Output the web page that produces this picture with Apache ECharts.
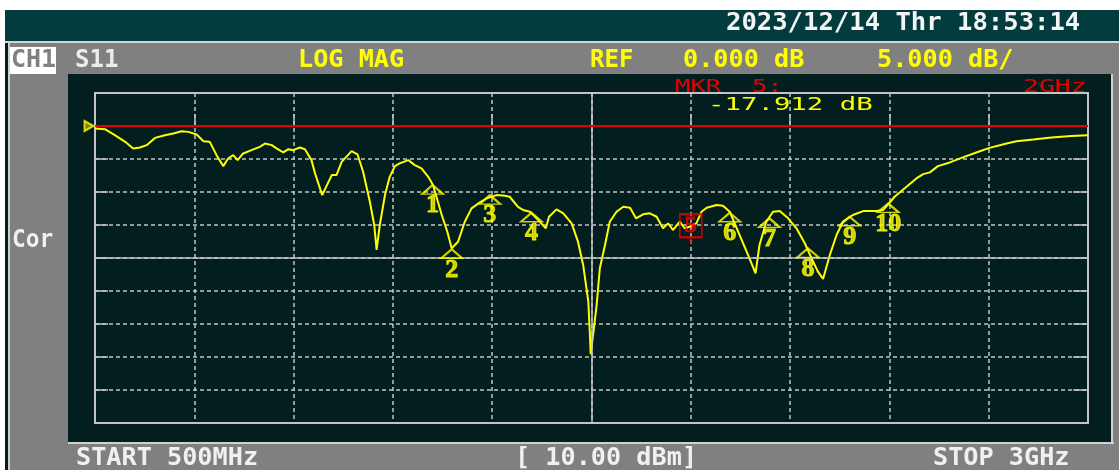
<!DOCTYPE html>
<html>
<head>
<meta charset="utf-8">
<script src="https://cdn.jsdelivr.net/npm/echarts@6/dist/echarts.min.js"></script>
<style>
html, body { margin: 0; padding: 0; background: #fff; }
#chart { width: 1119px; height: 470px; }
</style>
</head>
<body>
<div id="chart"></div>
<script>
// S11 trace, 500 MHz .. 3 GHz
const traceFreq = [500, 525, 550, 576, 596, 613, 630, 651, 676, 697, 718, 735, 756, 773, 789,
  806, 823, 835, 848, 859, 873, 894, 915, 928, 945, 957, 974, 987, 999, 1016, 1029, 1045, 1054,
  1072, 1096, 1108, 1121, 1146, 1161, 1175, 1192, 1203, 1209, 1217, 1230, 1242, 1255, 1267, 1289,
  1305, 1322, 1339, 1351, 1373, 1387, 1398, 1414, 1431, 1448, 1469, 1490, 1511, 1532, 1544, 1565,
  1578, 1595, 1616, 1635, 1643, 1662, 1679, 1700, 1716, 1729, 1742, 1746, 1748, 1754, 1763, 1771,
  1784, 1796, 1813, 1830, 1847, 1862, 1880, 1897, 1914, 1930, 1943, 1955, 1972, 1985, 1997, 2014,
  2027, 2040, 2065, 2081, 2098, 2123, 2144, 2163, 2173, 2190, 2207, 2224, 2245, 2266, 2287, 2304,
  2320, 2333, 2350, 2367, 2383, 2408, 2434, 2467, 2484, 2497, 2513, 2543, 2568, 2585, 2602, 2622,
  2652, 2685, 2719, 2752, 2795, 2820, 2862, 2908, 2958, 3000];
const traceDb = [-0.38, -0.48, -1.39, -2.40, -3.40, -3.25, -2.90, -1.80, -1.39, -1.13, -0.79, -0.89,
  -1.29, -2.30, -2.40, -4.42, -6.08, -4.92, -4.42, -5.17, -4.16, -3.66, -3.16, -2.65, -2.90, -3.40,
  -4.01, -3.51, -3.66, -3.25, -3.55, -5.17, -7.18, -10.47, -7.44, -7.44, -5.43, -3.81, -4.31, -6.94,
  -11.48, -15.00, -18.78, -15.00, -10.47, -7.70, -6.08, -5.67, -5.17, -5.93, -6.43, -7.70, -8.95,
  -13.49, -16.02, -18.53, -17.53, -14.50, -12.48, -11.57, -10.87, -10.47, -10.57, -10.72, -12.24,
  -12.73, -12.99, -14.25, -15.50, -13.75, -12.63, -13.23, -14.75, -17.53, -21.05, -26.60, -31.64,
  -34.56, -31.64, -27.10, -21.55, -18.03, -14.50, -12.99, -12.24, -12.39, -13.99, -13.38, -13.23,
  -13.75, -15.50, -14.75, -15.76, -14.50, -15.50, -15.26, -14.75, -12.99, -12.39, -11.98, -12.08,
  -12.99, -16.52, -19.54, -22.31, -18.03, -14.50, -12.99, -12.89, -13.99, -15.50, -17.77, -20.04,
  -22.07, -23.17, -19.54, -16.52, -14.50, -13.49, -12.89, -12.89, -12.73, -11.87, -10.72, -9.21,
  -7.94, -7.29, -7.03, -6.08, -5.52, -4.76, -4.01, -3.31, -2.65, -2.30, -2.04, -1.74, -1.50, -1.39];

// markers (5 is the active one)
const markerIds = ['1', '2', '3', '4', '6', '7', '8', '9', '10'];
const markerFreq = [1350, 1398, 1494, 1599, 2098, 2198, 2295, 2400, 2497];
const markerDb = [-8.95, -18.68, -10.47, -13.14, -13.14, -13.99, -18.53, -13.75, -11.72];
const activeId = '5';
const activeFreq = 2000;
const activeDb = -17.912;

const refLevel = 0;
const xMin = 500, xMax = 3000, xStep = 250;
const yMin = -45, yMax = 5, yStep = 5;

const YEL = '#ffff00';
const RED = '#e60000';
const GRID = '#c4c4c4';
const BG = '#021e1f';
const FRAME = '#808080';
const MONO = '"DejaVu Sans Mono", monospace';

function txt(str, x, y, color, size, bold, sx) {
  return {
    type: 'text', x: x, y: y, z: 100, scaleX: sx || 1,
    style: {
      text: str, x: 0, y: 0, fill: color,
      font: (bold ? 'bold ' : '') + size + 'px ' + MONO,
      textAlign: 'left', textVerticalAlign: 'middle',
    },
  };
}
function box(x, y, w, h, fill) {
  return { type: 'rect', z: 1, shape: { x: x, y: y, width: w, height: h }, style: { fill: fill } };
}

const chart = echarts.init(document.getElementById('chart'), null, { renderer: 'canvas' });

const axisCommon = {
  type: 'value',
  axisLabel: { show: false },
  axisLine: { show: true, lineStyle: { color: GRID, width: 2 } },
  axisTick: { show: true, inside: true, length: 13, lineStyle: { color: GRID, width: 1.5 } },
};

chart.setOption({
  backgroundColor: BG,
  animation: false,
  grid: {
    left: 95, right: 31, top: 93, height: 330,
    show: true, borderColor: GRID, borderWidth: 2,
  },
  xAxis: [Object.assign({}, axisCommon, {
    min: xMin, max: xMax, interval: xStep, position: 'bottom',
    axisTick: { show: true, inside: true, length: 12, lineStyle: { color: GRID, width: 1.5 } },
    splitLine: { show: true, lineStyle: { color: GRID, width: 1.5, type: [4, 3] } },
  })],
  yAxis: [Object.assign({}, axisCommon, {
    min: yMin, max: yMax, interval: yStep, position: 'left',
    splitLine: { show: true, lineStyle: { color: GRID, width: 1.5, type: [4, 3] } },
  }), Object.assign({}, axisCommon, {
    min: yMin, max: yMax, interval: yStep, position: 'right',
    axisTick: { show: true, inside: true, length: 15, lineStyle: { color: GRID, width: 1.5 } },
    splitLine: { show: false },
  })],
  graphic: [
    // instrument frame, kept outside the plot panel
    box(0, 0, 1119, 10, '#ffffff'),
    box(0, 10, 5, 460, '#ffffff'),
    box(5, 10, 1114, 31, '#033c3f'),
    box(5, 41, 1114, 2, '#d4d4d4'),
    box(8, 43, 1111, 31, FRAME),
    box(8, 74, 60, 396, FRAME),
    box(8, 444, 1111, 26, FRAME),
    box(1113, 74, 6, 370, FRAME),
    box(8, 43, 2, 427, '#d0d0d0'),
    box(68, 442, 1046, 2, '#d0d0d0'),
    box(1111, 74, 2, 370, '#d0d0d0'),
    box(10, 47, 46, 27, '#ffffff'),
    txt('2023/12/14 Thr 18:53:14', 726, 24, '#f4f4f4', 24, true, 1.066),
    txt('CH1', 11, 61, FRAME, 24, true, 1.04),
    txt('S11', 75, 61, '#ececec', 24, true, 1.0),
    txt('LOG MAG', 298, 61, YEL, 24, true, 1.05),
    txt('REF', 590, 61, YEL, 24, true, 1.0),
    txt('0.000 dB', 683, 61, YEL, 24, true, 1.05),
    txt('5.000 dB/', 877, 61, YEL, 24, true, 1.05),
    txt('Cor', 12, 241, '#f0f0f0', 24, true, 0.95),
    txt('START 500MHz', 76, 459, '#f0f0f0', 24, true, 1.05),
    txt('[ 10.00 dBm]', 515, 459, '#f0f0f0', 24, true, 1.05),
    txt('STOP 3GHz', 933, 459, '#f0f0f0', 24, true, 1.05),
    txt('MKR  5:', 675, 87, RED, 18, false, 1.42),
    txt('2GHz', 1023, 87, RED, 18, false, 1.47),
    txt('-17.912 dB', 708, 105, YEL, 18, false, 1.52),
  ],
  series: [
    {
      type: 'line', name: 'grid centre', silent: true, data: [],
      markLine: {
        silent: true, symbol: 'none', label: { show: false },
        data: [
          { xAxis: (xMin + xMax) / 2, lineStyle: { color: GRID, width: 1.5, type: 'solid' } },
          { yAxis: (yMin + yMax) / 2, lineStyle: { color: GRID, width: 1.5, type: 'solid' } },
        ],
      },
      z: 1,
    },
    {
      type: 'line', name: 'S11',
      data: traceFreq.map((f, i) => [f, traceDb[i]]),
      showSymbol: false, symbol: 'none',
      lineStyle: { color: YEL, width: 2 },
      z: 3,
    },
    {
      type: 'line', name: 'ref', silent: true, data: [],
      markLine: {
        silent: true, symbol: 'none', label: { show: false },
        data: [{ yAxis: refLevel, lineStyle: { color: RED, width: 2, type: 'solid' } }],
      },
      z: 2,
    },
    {
      type: 'scatter', name: 'ref pos',
      data: [[xMin, refLevel]],
      symbol: 'path://M0,0 L9,5 L0,10 Z', symbolSize: [9, 10], symbolOffset: [-6, 0],
      itemStyle: { color: '#9a9a00', borderColor: YEL, borderWidth: 2 },
      z: 5,
    },
    {
      type: 'scatter', name: 'markers',
      data: markerFreq.map((f, i) => ({ value: [f, markerDb[i]], name: markerIds[i] })),
      symbol: 'path://M10,0 L20,9 L0,9 Z', symbolSize: [21, 9], symbolOffset: [0, 4.5],
      itemStyle: { color: 'rgba(0,0,0,0)', borderColor: YEL, borderWidth: 2 },
      label: {
        show: true, position: 'bottom', distance: 0,
        formatter: (p) => p.name,
        color: YEL, fontFamily: '"Liberation Serif", serif', fontWeight: 'bold', fontSize: 26,
        lineHeight: 22, textBorderColor: YEL, textBorderWidth: 1,
      },
      z: 6,
    },
    {
      type: 'scatter', name: 'active marker',
      data: [{ value: [activeFreq, activeDb], name: activeId }],
      symbol: 'path://M0,0 L22,0 L22,23 L0,23 Z M11,23 L11,30', symbolSize: [22, 30], symbolOffset: [0, -15],
      itemStyle: { color: 'rgba(0,0,0,0)', borderColor: RED, borderWidth: 2 },
      label: {
        show: true, position: 'inside', offset: [0, -3],
        formatter: (p) => p.name,
        color: RED, fontFamily: '"Liberation Serif", serif', fontWeight: 'bold', fontSize: 24,
        lineHeight: 20, textBorderColor: RED, textBorderWidth: 1,
      },
      z: 7,
    },
  ],
});
</script>
</body>
</html>
